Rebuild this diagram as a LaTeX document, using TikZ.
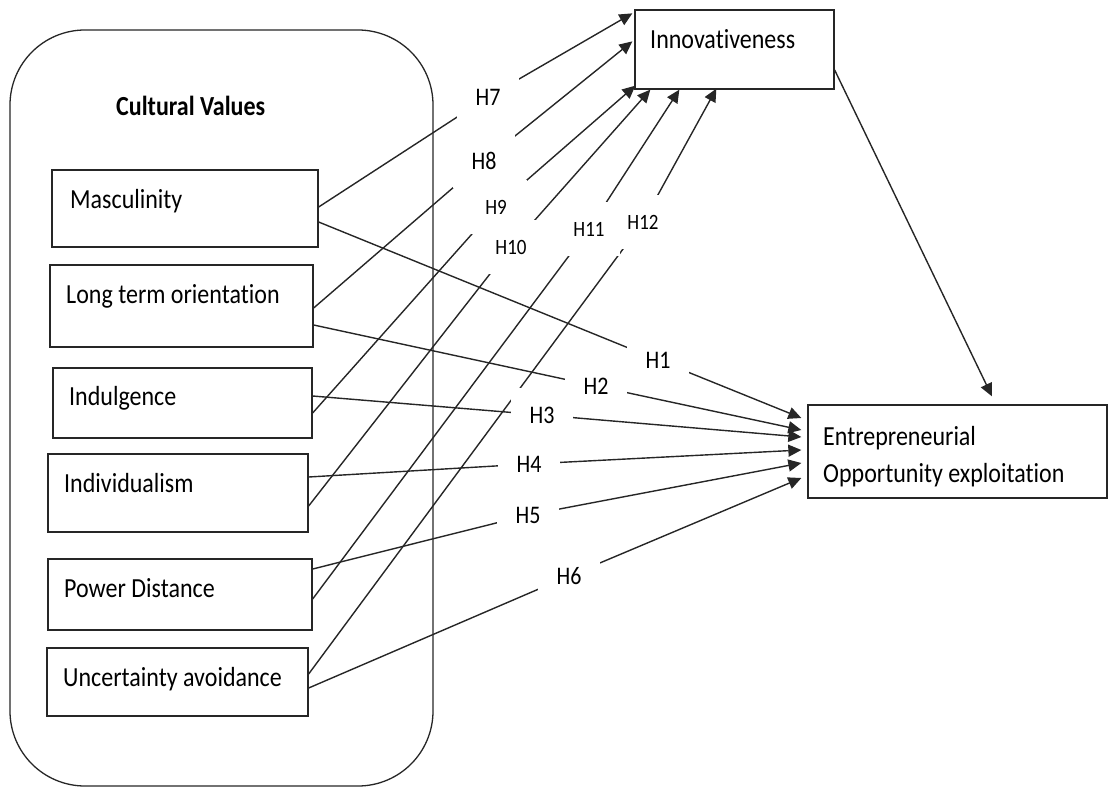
\documentclass[tikz,border=0pt]{standalone}
\usepackage{fontspec}
\usepackage{graphicx}
\setmainfont[Ligatures=NoCommon]{Carlito}
\usetikzlibrary{arrows.meta,backgrounds}
\newcommand\vstretch[1]{\scalebox{1}[1.15]{#1}}
\begin{document}
\begin{tikzpicture}[x=1pt,y=-1pt,
  bx/.style={draw=black!85, line width=1.3pt, fill=white, inner sep=0pt},
  txt/.style={anchor=base west, inner sep=0pt, font=\fontsize{24}{28}\selectfont},
  hyp/.style={fill=white, draw=none, minimum width=62pt, minimum height=54pt, inner sep=0pt, font=\fontsize{22}{26}\selectfont},
  hyps/.style={hyp, font=\fontsize{19}{22}\selectfont},
  con/.style={line width=1.4pt, draw=black!85},
  arr/.style={con, -{Triangle[length=13pt,width=12pt]}}
]
\useasboundingbox (0,0) rectangle (1109,787);

% outer group
\node[draw=black!85, line width=1.3pt, rounded corners=75pt, minimum width=423pt, minimum height=756pt, inner sep=0pt] (cv) at (221.5,408) {};
\node[txt, font=\bfseries\fontsize{24}{28}\selectfont] (cv-t) at (116,115) {\vstretch{Cultural Values}};

% source boxes
\node[bx, minimum width=266pt, minimum height=77pt] (masc)  at (185,208.5) {};
\node[bx, minimum width=263pt, minimum height=82pt] (lto)   at (181.5,306) {};
\node[bx, minimum width=259pt, minimum height=70pt] (indul) at (182.5,403) {};
\node[bx, minimum width=260pt, minimum height=78pt] (indiv) at (178,493) {};
\node[bx, minimum width=264pt, minimum height=71pt] (pd)    at (180,594.5) {};
\node[bx, minimum width=261pt, minimum height=68pt] (ua)    at (177.5,682) {};

% target boxes
\node[bx, minimum width=199pt, minimum height=79pt] (innov) at (734.5,49.5) {};
\node[bx, minimum width=299pt, minimum height=93pt] (eoe)   at (957.5,451.5) {};

% box texts
\node[txt] (masc-t)  at (70,208) {\vstretch{Masculinity}};
\node[txt] (lto-t)   at (66,303) {\vstretch{Long term orientation}};
\node[txt] (indul-t) at (69,405) {\vstretch{Indulgence}};
\node[txt] (indiv-t) at (64,492) {\vstretch{Individualism}};
\node[txt] (pd-t)    at (64,597) {\vstretch{Power Distance}};
\node[txt] (ua-t)    at (63,686) {\vstretch{Uncertainty avoidance}};
\node[txt] (innov-t) at (650,48) {\vstretch{Innovativeness}};
\node[txt] (eoe-t1)  at (823,445) {\vstretch{Entrepreneurial}};
\node[txt] (eoe-t2)  at (823,482) {\vstretch{Opportunity exploitation}};

% hypothesis labels
\node[hyp]  (H7)  at (488,97)  {\vstretch{H7}};
\node[hyp]  (H8)  at (484,161) {\vstretch{H8}};
\node[hyps] (H9)  at (496,207) {\vstretch{H9}};
\node[hyps] (H10) at (511,247) {\vstretch{H10}};
\node[hyps] (H11) at (589,229) {\vstretch{H11}};
\node[hyps] (H12) at (643,222) {\vstretch{H12}};
\node[hyp]  (H1)  at (658,360) {\vstretch{H1}};
\node[hyp]  (H2)  at (596,386) {\vstretch{H2}};
\node[hyp]  (H3)  at (542,415) {\vstretch{H3}};
\node[hyp]  (H4)  at (529,464) {\vstretch{H4}};
\node[hyp]  (H5)  at (528,515) {\vstretch{H5}};
\node[hyp]  (H6)  at (569,576) {\vstretch{H6}};

\begin{pgfonlayer}{background}
% to Innovativeness
\draw[arr] ([yshift=1.5pt]masc.east)  -- (H7.center)  -- ([xshift=-2pt,yshift=-4pt]innov.north west);
\draw[arr] ([yshift=-2pt]lto.east)    -- (H8.center)  -- ([xshift=-2pt,yshift=-32pt]innov.north west);
\draw[arr] ([yshift=-10pt]indul.east) -- (H9.center)  -- ([xshift=1pt,yshift=4pt]innov.south west);
\draw[arr] ([yshift=-13pt]indiv.east) -- (H10.center) -- ([xshift=16pt]innov.south west);
\draw[arr] ([yshift=-4.5pt]pd.east)   -- (H11.center) -- ([xshift=45pt]innov.south west);
\draw[arr] ([yshift=8pt]ua.east)      -- (H12.center) -- ([xshift=82pt,yshift=1pt]innov.south west);
% to Entrepreneurial Opportunity exploitation
\draw[arr] ([yshift=-13.5pt]masc.east) -- (H1.center) -- ([xshift=-6pt,yshift=33.5pt]eoe.west);
\draw[arr] ([yshift=-19pt]lto.east)    -- (H2.center) -- ([xshift=-6pt,yshift=21.5pt]eoe.west);
\draw[arr] ([yshift=7pt]indul.east)    -- (H3.center) -- ([xshift=-6pt,yshift=14.5pt]eoe.west);
\draw[arr] ([yshift=16pt]indiv.east)   -- (H4.center) -- ([xshift=-6pt,yshift=1.5pt]eoe.west);
\draw[arr] ([yshift=25.5pt]pd.east)    -- (H5.center) -- ([xshift=-6pt,yshift=-11.5pt]eoe.west);
\draw[arr] ([yshift=-6pt]ua.east)      -- (H6.center) -- ([xshift=-6pt,yshift=-26.5pt]eoe.west);
% mediator
\draw[arr] ([yshift=-20.5pt]innov.east) -- ([xshift=34.5pt,yshift=8pt]eoe.north);
\end{pgfonlayer}
\end{tikzpicture}
\end{document}
